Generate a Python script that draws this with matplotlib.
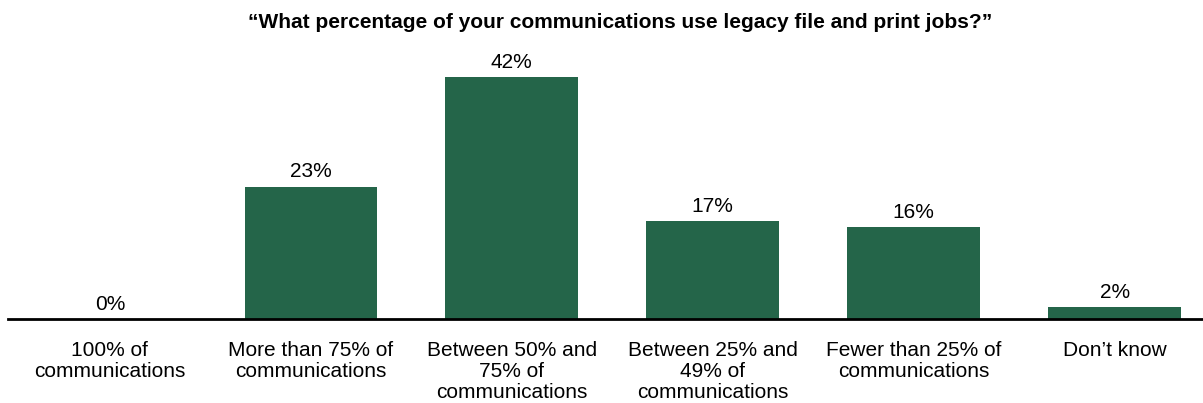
import matplotlib
matplotlib.use('Agg')
import matplotlib.pyplot as plt

# survey answers
categories = ['100% of\ncommunications', 'More than 75% of\ncommunications',
              'Between 50% and\n75% of\ncommunications', 'Between 25% and\n49% of\ncommunications',
              'Fewer than 25% of\ncommunications', 'Don\u2019t know']
values = [0, 23, 42, 17, 16, 2]
labels = ['0%', '23%', '42%', '17%', '16%', '2%']

plt.rcParams['font.family'] = ['Liberation Sans', 'DejaVu Sans']

fig = plt.figure(figsize=(12.03, 4.03), dpi=100)
ax = fig.add_axes([8 / 1203, 1 - 319 / 403, 1 - 8 / 1203, (319 - 60) / 403])

x = range(len(values))
bars = ax.bar(x, values, width=0.66, color='#246549')
for xi, v, lab in zip(x, values, labels):
    ax.text(xi, v + 0.9, lab, ha='center', va='bottom', fontsize=15)

ax.set_xlim(-0.507, 5.44)
ax.set_ylim(0, 45)
ax.set_xticks(list(x))
ax.set_xticklabels(categories, fontsize=15, va='top', linespacing=1.13)
ax.tick_params(axis='x', length=0, pad=16)
ax.set_yticks([])
for s in ['top', 'right', 'left']:
    ax.spines[s].set_visible(False)
ax.spines['bottom'].set_linewidth(2)

fig.text(620 / 1203, 1 - 22 / 403, '\u201cWhat percentage of your communications use legacy file and print jobs?\u201d',
         ha='center', va='center', fontsize=15, fontweight='bold')

plt.savefig('out.png', dpi=100)
